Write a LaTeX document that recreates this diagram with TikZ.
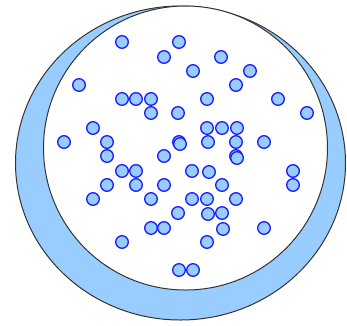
\documentclass[tikz,border=0pt]{standalone}
\definecolor{lightblue}{HTML}{99CCFF}
\definecolor{dotblue}{HTML}{1A1AFF}
\tikzset{
  outerring/.style={fill=lightblue, draw=black!80, line width=1pt},
  innerdisc/.style={fill=white, draw=black!80, line width=1pt},
  bluedot/.style={fill=lightblue, draw=dotblue, line width=1.3pt}
}
\begin{document}
\begin{tikzpicture}[x=1pt,y=-1pt]
\useasboundingbox (0,0) rectangle (347,325);
\path[outerring] (180.5,163) ellipse [x radius=165, y radius=157];
\path[innerdisc] (185.5,148) circle [radius=142];
\foreach \px/\py in {
 122/42, 179/42,
 164/57, 221/57,
 193/71, 250/71,
 79/85, 236/85,
 122/99, 136/99, 151/99, 207/99, 278/99,
 151/113, 178/113, 307/113,
 93/128, 207/128, 222/128, 237/128,
 64/142, 107/142, 179/142, 180/144, 208/142, 236/142, 264/142,
 107/156, 164/156, 236/156, 237/158,
 122/171, 136/171, 192/171, 209/172, 293/171,
 107/185, 136/185, 164/185, 222/185, 293/185,
 93/199, 151/199, 192/199, 207/199, 236/199,
 178/213, 208/214, 222/213,
 151/228, 164/228, 223/229, 264/228,
 122/242, 207/242,
 179/270, 193/270}
{
  \path[bluedot] (\px,\py) circle [radius=6.3];
}
\end{tikzpicture}
\end{document}
